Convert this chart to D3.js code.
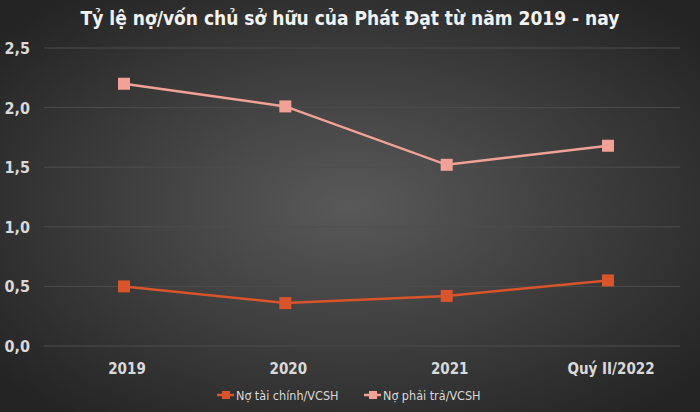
<!DOCTYPE html>
<html>
<head>
<meta charset="utf-8">
<script src="https://cdn.jsdelivr.net/npm/d3@7"></script>
<style>
  body { margin: 0; background: #2b2b2b; }
  svg { display: block; font-family: "DejaVu Sans Condensed", "DejaVu Sans", sans-serif; }
</style>
</head>
<body>
<script>
var categories = ["2019", "2020", "2021", "Quý II/2022"];
var seriesNames = ["Nợ tài chính/VCSH", "Nợ phải trả/VCSH"];
var noTaiChinh = [0.50, 0.36, 0.42, 0.55];
var noPhaiTra = [2.20, 2.01, 1.52, 1.68];
var yTicks = [0, 0.5, 1.0, 1.5, 2.0, 2.5];
var colors = ["#d9532b", "#f2a196"];

var width = 700, height = 412;

var svg = d3.select("body").append("svg")
    .attr("width", width)
    .attr("height", height);

var defs = svg.append("defs");
var grad = defs.append("radialGradient")
    .attr("id", "bg")
    .attr("cx", "50%").attr("cy", "50%").attr("r", "65%");
grad.append("stop").attr("offset", "0%").attr("stop-color", "#595959");
grad.append("stop").attr("offset", "100%").attr("stop-color", "#242424");

svg.append("rect")
    .attr("width", width)
    .attr("height", height)
    .attr("fill", "url(#bg)");

var x = d3.scalePoint().domain(categories).range([124, 608]);
var y = d3.scaleLinear().domain([0, 2.5]).range([346, 48]);
var fmt = function(d) { return d3.format(".1f")(d).replace(".", ","); };

// gridlines
svg.selectAll("line.grid")
    .data(yTicks)
    .enter()
    .append("line")
    .attr("class", "grid")
    .attr("x1", 44)
    .attr("x2", 680)
    .attr("y1", function(d) { return y(d); })
    .attr("y2", function(d) { return y(d); })
    .attr("stroke", "#4d4d4d")
    .attr("stroke-width", 1);

// y labels
svg.selectAll("text.ylab")
    .data(yTicks)
    .enter()
    .append("text")
    .attr("class", "ylab")
    .text(fmt)
    .attr("x", 30)
    .attr("y", function(d) { return y(d) + 6; })
    .attr("text-anchor", "end")
    .attr("fill", "#d9d9d9")
    .style("font-size", "16px")
    .style("font-weight", "bold");

// x labels
svg.selectAll("text.xlab")
    .data(categories)
    .enter()
    .append("text")
    .attr("class", "xlab")
    .text(function(d) { return d; })
    .attr("x", function(d) { return x(d) + 3; })
    .attr("y", 374)
    .attr("text-anchor", "middle")
    .attr("fill", "#d9d9d9")
    .style("font-size", "15px")
    .style("font-weight", "bold");

var allSeries = [noTaiChinh, noPhaiTra];
var line = d3.line()
    .x(function(d, i) { return x(categories[i]); })
    .y(function(d) { return y(d); });

allSeries.forEach(function(vals, s) {
  svg.append("path")
      .datum(vals)
      .attr("d", line)
      .attr("fill", "none")
      .attr("stroke", colors[s])
      .attr("stroke-width", 2.5);

  svg.selectAll("rect.m" + s)
      .data(vals)
      .enter()
      .append("rect")
      .attr("class", "m" + s)
      .attr("x", function(d, i) { return x(categories[i]) - 6; })
      .attr("y", function(d) { return y(d) - 6; })
      .attr("width", 12)
      .attr("height", 12)
      .attr("fill", colors[s]);
});

// legend
var legendX = [217, 364];
seriesNames.forEach(function(name, s) {
  var g = svg.append("g").attr("transform", "translate(" + legendX[s] + ",395)");
  g.append("line")
      .attr("x1", 0).attr("x2", 17)
      .attr("y1", 0).attr("y2", 0)
      .attr("stroke", colors[s])
      .attr("stroke-width", 2.5);
  g.append("rect")
      .attr("x", 5).attr("y", -4)
      .attr("width", 8).attr("height", 8)
      .attr("fill", colors[s]);
  g.append("text")
      .text(name)
      .attr("x", 19)
      .attr("y", 4.5)
      .attr("fill", "#d9d9d9")
      .style("font-size", "12.5px");
});

// title
svg.append("text")
    .text("Tỷ lệ nợ/vốn chủ sở hữu của Phát Đạt từ năm 2019 - nay")
    .attr("x", 350)
    .attr("y", 25)
    .attr("text-anchor", "middle")
    .attr("fill", "#f2f2f2")
    .style("font-size", "19px")
    .style("font-weight", "bold");
</script>
</body>
</html>
